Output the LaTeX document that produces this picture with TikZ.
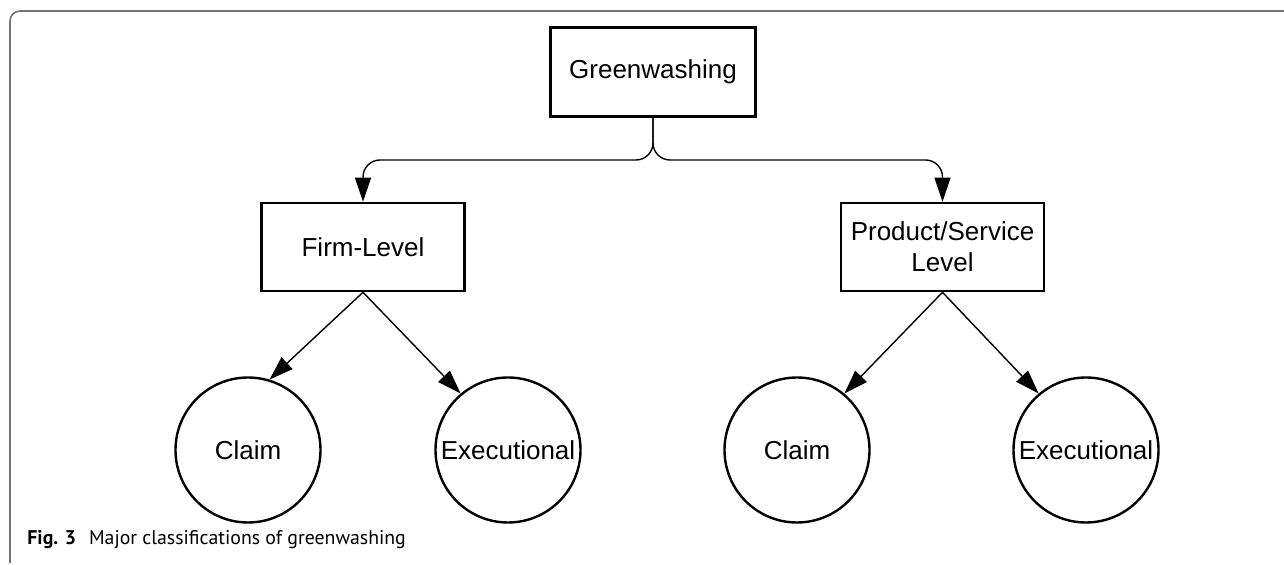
\documentclass[tikz,border=0pt]{standalone}
\usepackage{fontspec}
\setmainfont{Liberation Sans}
\newfontfamily\capfont{PT Sans}
\usetikzlibrary{arrows.meta}

\begin{document}
\begin{tikzpicture}[x=0.5pt, y=-0.5pt]
        % Figure sizes (all coordinates are pixels of the figure)
        \pgfmathsetmacro{\rowA}{72}
        \pgfmathsetmacro{\rowB}{247}
        \pgfmathsetmacro{\rowC}{450}

        \tikzset{
            lvlbox/.style={draw, rectangle, line width=1.3pt,
            minimum width=101.5pt, minimum height=44pt, inner sep=0pt,
            align=center, font=\fontsize{13}{15.5}\selectfont},
            kindcirc/.style={draw, circle, line width=1.2pt,
            minimum size=72.5pt, inner sep=0pt,
            font=\fontsize{13}{15.5}\selectfont},
            arr/.style={line width=0.7pt,
            -{Triangle[length=12pt, width=8pt]}},
            frameline/.style={draw=black!55, line width=0.8pt},
        }

        \useasboundingbox (0, 0) rectangle (1284, 565);

        % Frame of the figure and its caption
        \draw[frameline, rounded corners=5pt] (10, 563) -- (10, 11)
        -- (1284, 11);
        \node (CAP) at (27, 545) [anchor=base west, inner sep=0pt,
        font=\capfont\fontsize{9.9}{12}\selectfont]
        {\textbf{Fig. 3}\hspace{0.65em}Major classifications of greenwashing};

        % Boxes
        \node (GW) at (653, \rowA) [lvlbox, minimum width=102.5pt,
        minimum height=44.5pt] {Greenwashing};
        \node (FL) at (363, \rowB) [lvlbox] {Firm-Level};
        \node (PS) at (942.5, \rowB) [lvlbox] {Product/Service\\Level};

        % Circles
        \node (CL1) at (248, \rowC) [kindcirc] {Claim};
        \node (EX1) at (508, \rowC) [kindcirc] {Executional};
        \node (CL2) at (797, \rowC) [kindcirc] {Claim};
        \node (EX2) at (1086, \rowC) [kindcirc] {Executional};

        % Connectors
        \coordinate (SPL) at (653, 160);
        \begin{scope}[rounded corners=8.5pt]
            \draw[arr] (GW.south) -- (SPL) -| (FL.north);
            \draw[arr] (GW.south) -- (SPL) -| (PS.north);
        \end{scope}

        \draw[arr] (FL.south) -- (CL1.73);
        \draw[arr] (FL.south) -- (EX1.130);
        \draw[arr] (PS.south) -- (CL2.50);
        \draw[arr] (PS.south) -- (EX2.130);

\end{tikzpicture}
\end{document}
